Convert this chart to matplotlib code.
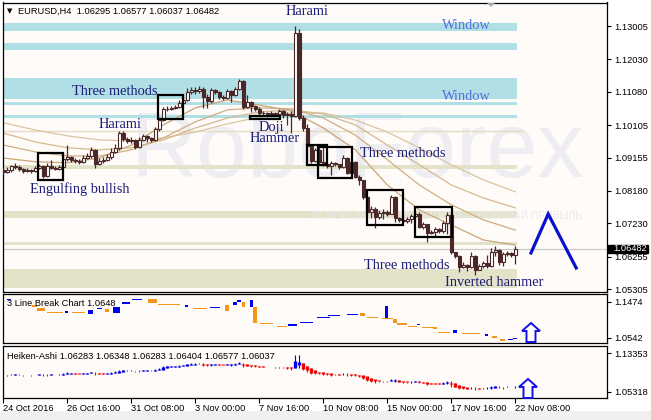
import numpy as np
import matplotlib
matplotlib.use("Agg")
import matplotlib.pyplot as plt
import matplotlib.transforms as mtransforms
from matplotlib.patches import Rectangle, Polygon

# EURUSD H4 candles, 24 Oct 2016 00:00 ... 22 Nov 2016 08:00
first_open = 1.0879
closes = [
    1.0873, 1.0879, 1.0891, 1.0888, 1.0882, 1.0876, 1.0879, 1.0876, 1.0885, 1.0891,
    1.0861, 1.0891, 1.0885, 1.0882, 1.0888, 1.0911, 1.0917, 1.0909, 1.0906, 1.0903,
    1.0914, 1.0920, 1.0938, 1.0897, 1.0906, 1.0909, 1.0917, 1.0932, 1.0944, 1.0987,
    1.0970, 1.0964, 1.0967, 1.0946, 1.0967, 1.0979, 1.0973, 1.0967, 1.0999, 1.1025,
    1.1058, 1.1058, 1.1061, 1.1063, 1.1075, 1.1084, 1.1107, 1.1113, 1.1110, 1.1116,
    1.1093, 1.1081, 1.1113, 1.1107, 1.1093, 1.1090, 1.1110, 1.1098, 1.1116, 1.1139,
    1.1063, 1.1078, 1.1066, 1.1058, 1.1046, 1.1046, 1.1043, 1.1046, 1.1043, 1.1052,
    1.1040, 1.1043, 1.1037, 1.1280, 1.1031, 1.1002, 1.0949, 1.0906, 1.0938, 1.0903,
    1.0897, 1.0891, 1.0900, 1.0897, 1.0888, 1.0914, 1.0870, 1.0903, 1.0858, 1.0850,
    1.0800, 1.0756, 1.0765, 1.0741, 1.0753, 1.0756, 1.0750, 1.0800, 1.0739, 1.0733,
    1.0730, 1.0736, 1.0744, 1.0750, 1.0712, 1.0721, 1.0695, 1.0698, 1.0706, 1.0700,
    1.0724, 1.0747, 1.0639, 1.0627, 1.0595, 1.0601, 1.0595, 1.0627, 1.0586, 1.0598,
    1.0607, 1.0598, 1.0639, 1.0645, 1.0610, 1.0633, 1.0636, 1.06295, 1.06482,
]
highs = [
    1.0885, 1.0888, 1.0894, 1.0900, 1.0894, 1.0885, 1.0885, 1.0882, 1.0891, 1.0897,
    1.0894, 1.0900, 1.0909, 1.0891, 1.0894, 1.0929, 1.0952, 1.0920, 1.0914, 1.0911,
    1.0923, 1.0929, 1.0946, 1.0941, 1.0914, 1.0917, 1.0926, 1.0944, 1.0955, 1.0993,
    1.0993, 1.0976, 1.0976, 1.0970, 1.0976, 1.0984, 1.0981, 1.0976, 1.1005, 1.1031,
    1.1063, 1.1066, 1.1066, 1.1069, 1.1084, 1.1093, 1.1119, 1.1122, 1.1122, 1.1125,
    1.1122, 1.1101, 1.1119, 1.1116, 1.1110, 1.1098, 1.1116, 1.1113, 1.1122, 1.1145,
    1.1142, 1.1098, 1.1081, 1.1069, 1.1063, 1.1052, 1.1049, 1.1052, 1.1049, 1.1058,
    1.1055, 1.1049, 1.1052, 1.1301, 1.1292, 1.1040, 1.1014, 1.0952, 1.0944, 1.0946,
    1.0949, 1.0900, 1.0906, 1.0903, 1.0897, 1.0923, 1.0917, 1.0909, 1.0906, 1.0864,
    1.0850, 1.0803, 1.0774, 1.0771, 1.0762, 1.0765, 1.0762, 1.0806, 1.0803, 1.0741,
    1.0741, 1.0741, 1.0750, 1.0756, 1.0756, 1.0727, 1.0721, 1.0703, 1.0712, 1.0709,
    1.0730, 1.0756, 1.0750, 1.0639, 1.0630, 1.0610, 1.0604, 1.0639, 1.0630, 1.0604,
    1.0612, 1.0630, 1.0651, 1.0657, 1.0648, 1.0639, 1.0642, 1.0639, 1.06577,
]
lows = [
    1.0867, 1.0870, 1.0873, 1.0882, 1.0876, 1.0870, 1.0873, 1.0870, 1.0873, 1.0882,
    1.0856, 1.0858, 1.0882, 1.0879, 1.0879, 1.0885, 1.0906, 1.0903, 1.0900, 1.0897,
    1.0900, 1.0911, 1.0914, 1.0885, 1.0894, 1.0900, 1.0906, 1.0911, 1.0929, 1.0938,
    1.0964, 1.0958, 1.0958, 1.0941, 1.0944, 1.0964, 1.0961, 1.0961, 1.0964, 1.0993,
    1.1022, 1.1052, 1.1055, 1.1058, 1.1061, 1.1072, 1.1081, 1.1101, 1.1101, 1.1104,
    1.1061, 1.1061, 1.1075, 1.1101, 1.1087, 1.1084, 1.1087, 1.1078, 1.1096, 1.1113,
    1.1058, 1.1061, 1.1049, 1.1052, 1.1040, 1.1040, 1.1040, 1.1040, 1.1037, 1.1037,
    1.1031, 1.1011, 1.0987, 1.1034, 1.1025, 1.0993, 1.0944, 1.0900, 1.0903, 1.0897,
    1.0891, 1.0885, 1.0864, 1.0891, 1.0882, 1.0885, 1.0867, 1.0864, 1.0856, 1.0835,
    1.0794, 1.0750, 1.0739, 1.0709, 1.0736, 1.0736, 1.0744, 1.0750, 1.0727, 1.0727,
    1.0724, 1.0724, 1.0724, 1.0741, 1.0709, 1.0706, 1.0668, 1.0692, 1.0686, 1.0695,
    1.0695, 1.0692, 1.0633, 1.0621, 1.0580, 1.0592, 1.0583, 1.0592, 1.0571, 1.0586,
    1.0592, 1.0592, 1.0595, 1.0627, 1.0601, 1.0598, 1.0627, 1.0624, 1.06037,
]

# moving averages, sampled every 8 bars
ma_bars = [0, 8, 16, 24, 32, 40, 48, 56, 64, 72, 80, 88, 96, 104, 112, 120, 128]
ma_fast = [1.0914, 1.0903, 1.0900, 1.0914, 1.0952, 1.1011, 1.1061, 1.1084, 1.1069,
           1.1052, 1.1002, 1.0938, 1.0835, 1.0762, 1.0718, 1.0674, 1.0659]
ma_mid = [1.0952, 1.0932, 1.0920, 1.0920, 1.0938, 1.0973, 1.1020, 1.1055, 1.1061,
          1.1058, 1.1031, 1.0981, 1.0909, 1.0835, 1.0777, 1.0733, 1.0703]
ma_slow = [1.0987, 1.0961, 1.0944, 1.0938, 1.0944, 1.0967, 1.1002, 1.1031, 1.1049,
           1.1055, 1.1043, 1.1011, 1.0952, 1.0894, 1.0835, 1.0797, 1.0768]
ma_slowest = [1.1017, 1.0996, 1.0979, 1.0967, 1.0964, 1.0973, 1.0990, 1.1014, 1.1034,
              1.1046, 1.1046, 1.1025, 1.0990, 1.0944, 1.0894, 1.0850, 1.0815]

# support / resistance zones (low, high)
window_zones = [(1.1287, 1.1310), (1.1230, 1.1252), (1.1086, 1.1149),
                (1.1070, 1.1078), (1.1030, 1.1040)]
level_zones = [(1.0881, 1.0894), (1.0739, 1.0759), (1.0659, 1.0669), (1.0533, 1.0589)]
level_line = 1.0993
zone_end_bar = 128.4

# pattern boxes: (first bar, last bar, low, high)
pattern_boxes = [(8.75, 15.0, 1.0850, 1.0930), (38.7, 44.9, 1.1028, 1.1099),
                 (75.85, 80.85, 1.0894, 1.0952), (78.7, 87.2, 1.0856, 1.0946),
                 (90.9, 99.9, 1.0718, 1.0820), (102.9, 112.2, 1.0683, 1.0771)]
doji_box = (61.7, 69.2, 1.1027, 1.1036)

# 3 line break bricks
lb_start = [1, 7.2, 8.4, 11, 15.4, 17.2, 21.2, 23.4, 25.4, 27.4, 29.7, 32.2, 36.2, 38.7,
            45.4, 47.4, 51.7, 55.4, 57.4, 58.4, 59.7, 61.7, 62.4, 64.2, 68.4, 71.2, 74.2,
            78.4, 81.2, 86, 89.2, 91, 94.7, 95.4, 97.4, 98.4, 101.2, 103.4, 104.7, 107.4,
            108.7, 112.4, 114.7, 120.4, 122.2, 124.2, 126.2, 127.4]
lb_end = [2, 8.4, 10.4, 15, 16.2, 20.4, 22.4, 24.7, 26.4, 29.2, 31.7, 34.7, 38.4, 44.2,
          46.2, 50.9, 54.2, 56.4, 58.4, 59.4, 60.4, 62.4, 63.4, 67.4, 70.9, 73.4, 77.4,
          81.7, 84.2, 88.7, 90.4, 93.7, 97.4, 96.2, 98.4, 100.9, 103.4, 104.2, 107.4,
          108.4, 111.7, 113.4, 119.2, 121.2, 123.4, 125.4, 127.4, 128.4]
lb_hi = [1.1544, 1.1389, 1.1311, 1.1207, 1.1233, 1.1207, 1.1259, 1.1298, 1.1285, 1.1337,
         1.1466, 1.1544, 1.1544, 1.1427, 1.1389, 1.1298, 1.1337, 1.1389, 1.1466, 1.1518,
         1.1466, 1.1518, 1.1337, 1.0922, 1.0845, 1.0897, 1.0948, 1.1078, 1.1130, 1.1156,
         1.1181, 1.1078, 1.1052, 1.1363, 1.1026, 1.0922, 1.0845, 1.0897, 1.0819, 1.0819,
         1.0702, 1.0741, 1.0651, 1.0638, 1.0586, 1.0508, 1.0521, 1.0547]
lb_lo = [1.1518, 1.1337, 1.1233, 1.1181, 1.1181, 1.1181, 1.1156, 1.1272, 1.1207, 1.1181,
         1.1414, 1.1518, 1.1440, 1.1401, 1.1337, 1.1272, 1.1311, 1.1233, 1.1389, 1.1466,
         1.1337, 1.1337, 1.0922, 1.0897, 1.0819, 1.0845, 1.0922, 1.1052, 1.1104, 1.1130,
         1.1104, 1.1052, 1.1026, 1.1052, 1.0922, 1.0871, 1.0819, 1.0858, 1.0793, 1.0767,
         1.0676, 1.0664, 1.0625, 1.0586, 1.0534, 1.0456, 1.0495, 1.0521]
lb_up = [1, 0, 0, 0, 1, 0, 1, 1, 0, 1, 1, 1, 0, 0, 1, 0, 1, 0, 1, 1, 0, 1, 0, 0, 0, 1, 1,
         1, 1, 1, 0, 0, 0, 1, 0, 0, 0, 1, 0, 0, 0, 1, 0, 1, 0, 0, 1, 1]

price_ticks = [1.13005, 1.12030, 1.11080, 1.10105, 1.09155, 1.08180, 1.07230, 1.06255, 1.05305]
last_price = 1.06482
time_tick_bars = [0, 16, 32, 48, 64, 80, 96, 112, 128]
time_tick_labels = ["24 Oct 2016", "26 Oct 16:00", "31 Oct 08:00", "3 Nov 00:00",
                    "7 Nov 16:00", "10 Nov 08:00", "15 Nov 00:00", "17 Nov 16:00",
                    "22 Nov 08:00"]

# ---------------------------------------------------------------
W, H = 651, 420
BG = "#fffbf9"
CANDLE = "#4a2828"
UI_FONT = "Liberation Sans"
NOTE_FONT = "Liberation Serif"
NOTE_COLOR = "#1c1c7a"


def frame(x0, y0, x1, y1):
    return [x0 / W, 1 - y1 / H, (x1 - x0) / W, (y1 - y0) / H]


def fig_px(x, y):
    return (x / W, 1 - y / H)


fig = plt.figure(figsize=(W / 100, H / 100), dpi=100)
fig.patch.set_facecolor("white")
fig.patches.append(Rectangle((0, 0), 1, 1 - 411 / H, transform=fig.transFigure,
                             facecolor="#f0f0f0", edgecolor="none", zorder=-5))

ax = fig.add_axes(frame(3, 2.5, 607, 292))
ax1 = fig.add_axes(frame(3, 294, 607, 343.3))
ax2 = fig.add_axes(frame(3, 346, 607, 398.3))

for a in (ax, ax1, ax2):
    a.set_facecolor(BG)
    a.set_xlim(-0.1, 150.9)
    for s in a.spines.values():
        s.set_linewidth(0.9)
        s.set_color("black")
    a.yaxis.tick_right()
    a.tick_params(axis="y", direction="out", length=3, width=0.8, pad=2.5,
                  labelsize=6.7, colors="black")
    a.tick_params(axis="x", bottom=False, labelbottom=False)

# ---------------- main price panel ----------------
ax.set_ylim(1.05218, 1.13693)
ax.set_yticks(price_ticks)
ax.set_yticklabels([f"{v:.5f}" for v in price_ticks], fontfamily=UI_FONT)

# faint broker watermark behind everything
ax.text(*fig_px(357, 153), "RoboForex", transform=fig.transFigure, fontsize=66,
        fontfamily=UI_FONT, color="#eeedf2", ha="center", va="center", zorder=0.2)
ax.text(*fig_px(447, 216), "ИСПОЛЬЗУЙ ВОЗМОЖНОСТИ — ПОЛУЧАЙ ПРИБЫЛЬ",
        transform=fig.transFigure, fontsize=7.5, fontfamily=UI_FONT, color="#ebe9ee",
        ha="center", va="center", zorder=1.5)

for lo, hi in window_zones:
    ax.add_patch(Rectangle((-1, lo), zone_end_bar + 1, hi - lo, facecolor="#b0dfe5",
                           edgecolor="none", zorder=1))
for lo, hi in level_zones:
    ax.add_patch(Rectangle((-1, lo), zone_end_bar + 1, hi - lo, facecolor="#e3e3c9",
                           edgecolor="none", zorder=1))
ax.plot([-1, zone_end_bar + 1.5], [level_line, level_line], color="#e6dcc4", lw=1.0, zorder=1)
ax.axhline(last_price, color="#c8c8c8", lw=0.9, zorder=1)

ax.plot(ma_bars, ma_slowest, color="#dcc4a0", lw=0.9, zorder=2)
ax.plot(ma_bars, ma_slow, color="#d6b890", lw=0.9, zorder=2)
ax.plot(ma_bars, ma_mid, color="#cfae84", lw=0.9, zorder=2)
ax.plot(ma_bars, ma_fast, color="#c9a578", lw=0.9, zorder=2)

closes_a = np.array(closes)
opens_a = np.concatenate([[first_open], closes_a[:-1]])
highs_a = np.array(highs)
lows_a = np.array(lows)
idx = np.arange(len(closes_a))
up = closes_a >= opens_a
body_lo = np.minimum(opens_a, closes_a)
body_h = np.maximum(np.abs(closes_a - opens_a), 0.00006)

ax.vlines(idx, np.minimum(lows_a, body_lo), np.maximum(highs_a, body_lo + body_h),
          color=CANDLE, lw=0.9, zorder=3)
ax.bar(idx, body_h, bottom=body_lo, width=0.7,
       color=np.where(up, "white", CANDLE), edgecolor=CANDLE, linewidth=0.8, zorder=4)

for b0, b1, lo, hi in pattern_boxes:
    ax.add_patch(Rectangle((b0, lo), b1 - b0, hi - lo, fill=False, edgecolor="black",
                           lw=1.6, zorder=5))
ax.add_patch(Rectangle((doji_box[0], doji_box[2]), doji_box[1] - doji_box[0],
                       doji_box[3] - doji_box[2], fill=False, edgecolor="black", lw=1.6, zorder=5))

notes = [("Harami", 75.9, 1.13444), ("Three methods", 27.8, 1.11073),
         ("Harami", 29.05, 1.10107), ("Doji", 66.9, 1.10040), ("Hammer", 67.7, 1.09725),
         ("Engulfing bullish", 19.05, 1.08234), ("Three methods", 99.9, 1.09258),
         ("Three methods", 100.9, 1.05980), ("Inverted hammer", 122.7, 1.05482)]
for txt, bx, py in notes:
    ax.text(bx, py, txt, fontsize=10.4, fontfamily=NOTE_FONT, color=NOTE_COLOR,
            ha="center", va="center", zorder=6)
for py in (1.13020, 1.10927):
    ax.text(115.8, py, "Window", fontsize=10.4, fontfamily=NOTE_FONT, color="#4f6fe0",
            ha="center", va="center", zorder=6)

ax.plot([131.9, 136.2, 143.2], [1.06361, 1.07502, 1.05921], color="#0a10d0", lw=2.3,
        solid_joinstyle="miter", zorder=6)

blend = mtransforms.blended_transform_factory(ax.transAxes, ax.transData)
ax.add_patch(Rectangle((1.0015, last_price - 0.00125), 0.067, 0.0025, transform=blend,
                       facecolor="black", edgecolor="black", clip_on=False, zorder=7))
ax.text(1.0099, last_price, f"{last_price:.5f}", transform=blend, color="white",
        fontsize=6.7, fontfamily=UI_FONT, ha="left", va="center", clip_on=False, zorder=8)

fig.text(*fig_px(18, 11), "EURUSD,H4  1.06295 1.06577 1.06037 1.06482", fontsize=6.7,
         fontfamily=UI_FONT, color="black", ha="left", va="center")
fig.text(*fig_px(10, 11), "\u25bc", fontsize=5, fontfamily="DejaVu Sans",
         color="black", ha="center", va="center")
fig.patches.append(Polygon([fig_px(487, 3), fig_px(495, 3), fig_px(491, 7)],
                           closed=True, transform=fig.transFigure,
                           facecolor="#a8a8a8", edgecolor="none"))

# ---------------- 3 line break panel ----------------
ax1.set_ylim(1.0397, 1.1673)
lb_ticks = [1.1474, 1.0542]
ax1.set_yticks(lb_ticks)
ax1.set_yticklabels([f"{v:.4f}" for v in lb_ticks], fontfamily=UI_FONT)
for s, e, hi, lo, u in zip(lb_start, lb_end, lb_hi, lb_lo, lb_up):
    ax1.bar(s, hi - lo, width=e - s, bottom=lo, align="edge",
            color="#0000f0" if u else "#f7941d", edgecolor="none", zorder=3)
ax1.text(0.006, 0.8, "3 Line Break Chart 1.0648", transform=ax1.transAxes,
         fontsize=6.7, fontfamily=UI_FONT, color="black", ha="left", va="center", zorder=4)


def hollow_arrow(x0, x1, y_top, y_mid, y_bot):
    xm = (x0 + x1) / 2
    sw = (x1 - x0) / 4
    pts = [(xm - sw, y_bot), (xm - sw, y_mid), (x0, y_mid), (xm, y_top), (x1, y_mid),
           (xm + sw, y_mid), (xm + sw, y_bot)]
    fig.patches.append(Polygon([fig_px(px, py) for px, py in pts], closed=True,
                               transform=fig.transFigure, facecolor="white",
                               edgecolor="#1010e8", lw=1.4, zorder=10))


hollow_arrow(522, 540, 323, 331, 342)

# ---------------- Heiken-Ashi panel ----------------
ax2.set_ylim(1.03937, 1.14880)
ha_ticks = [1.13353, 1.05318]
ax2.set_yticks(ha_ticks)
ax2.set_yticklabels([f"{v:.5f}" for v in ha_ticks], fontfamily=UI_FONT)

ha_close = (opens_a + highs_a + lows_a + closes_a) / 4
ha_open = np.empty_like(ha_close)
ha_open[0] = (opens_a[0] + closes_a[0]) / 2
for i in range(1, len(ha_close)):
    ha_open[i] = (ha_open[i - 1] + ha_close[i - 1]) / 2
ha_high = np.maximum(highs_a, np.maximum(ha_open, ha_close))
ha_low = np.minimum(lows_a, np.minimum(ha_open, ha_close))
ha_up = ha_close >= ha_open
ha_cols = np.where(ha_up, "#0000f0", "#f00000")
ax2.vlines(idx, ha_low, ha_high, colors=ha_cols, lw=0.8, zorder=3)
ax2.vlines(idx, np.minimum(ha_open, ha_close), np.maximum(ha_open, ha_close) + 0.0005,
           colors=ha_cols, lw=2.4, zorder=4)
ax2.text(0.006, 0.8, "Heiken-Ashi 1.06283 1.06348 1.06283 1.06404 1.06577 1.06037",
         transform=ax2.transAxes, fontsize=6.7, fontfamily=UI_FONT, color="black",
         ha="left", va="center", zorder=5)
hollow_arrow(519, 537, 379, 387, 398)

ax2.set_xticks(time_tick_bars)
ax2.set_xticklabels(time_tick_labels, fontfamily=UI_FONT, ha="left")
ax2.tick_params(axis="x", bottom=True, labelbottom=True, direction="out", length=3.5,
                width=0.8, pad=0.8, labelsize=6.7)

fig.savefig("out.png", dpi=100, facecolor=fig.get_facecolor())
